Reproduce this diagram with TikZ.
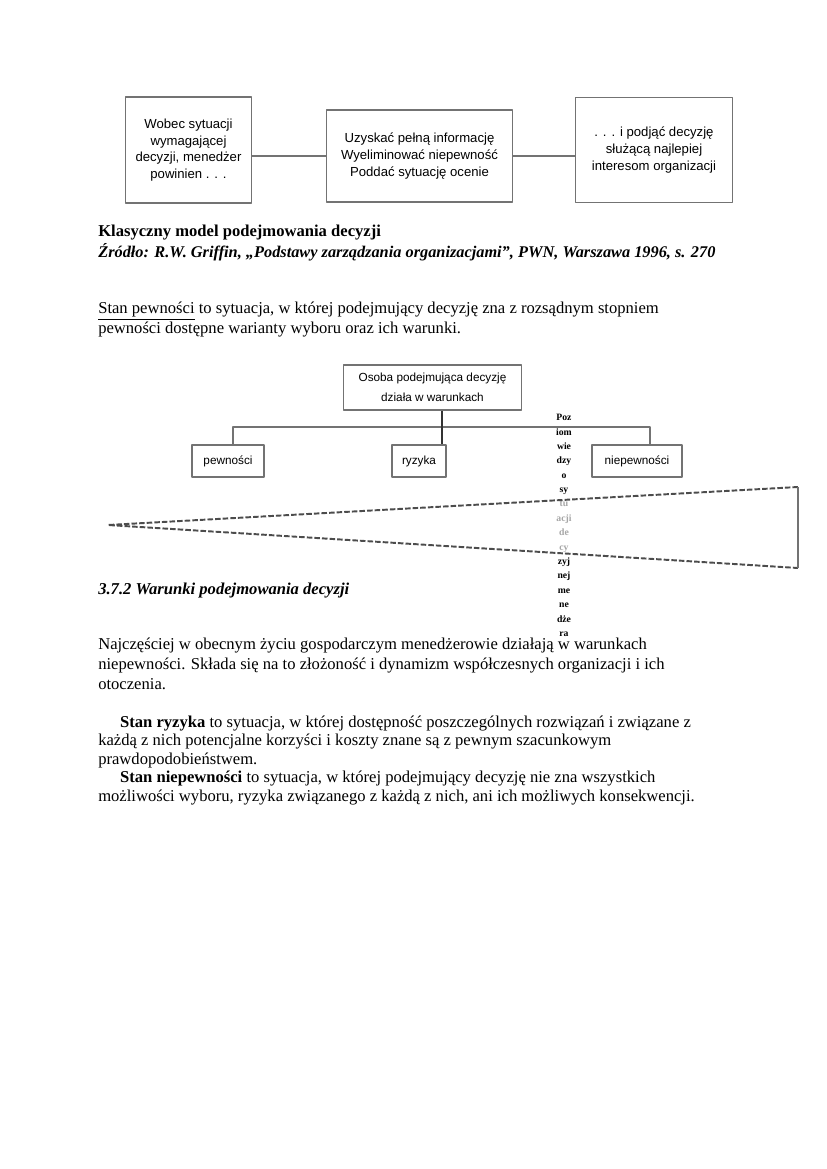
\documentclass[tikz,border=0pt]{standalone}
\usepackage{fontspec}
\setmainfont{Liberation Serif}
\newfontfamily\boxfont{Liberation Sans}
\usetikzlibrary{positioning}
\begin{document}
\begin{tikzpicture}[x=0.0254cm,y=-0.0254cm,line join=round,
  ramka/.style={draw=black!55,line width=1.1pt,align=center,inner sep=1pt,font=\boxfont\fontsize{9.5}{12}\selectfont},
  maly/.style={ramka,font=\boxfont\fontsize{8.5}{14.4}\selectfont,minimum height=23pt},
  linia/.style={draw=black!55,line width=1.1pt},
  tekst/.style={anchor=base west,align=left,inner sep=0pt,font=\fontsize{12}{13.3}\selectfont}]
\useasboundingbox (0,0) rectangle (826,1169);
\fill[white] (0,0) rectangle (826,1169);
\node[ramka,minimum width=91.4pt,minimum height=76.3pt] (wobec) at (188.5,150) {Wobec sytuacji\\wymagającej\\decyzji, menedżer\\powinien . . .};
\node[ramka,minimum width=134.6pt,minimum height=66.2pt] (uzyskac) at (419.5,156) {Uzyskać pełną informację\\Wyeliminować niepewność\\Poddać sytuację ocenie};
\node[ramka,minimum width=113.8pt,minimum height=75.6pt] (podjac) at (654,150) {. . . i podjąć decyzję\\służącą najlepiej\\interesom organizacji};
\draw[linia] (wobec.east|-uzyskac.west)--(uzyskac.west) (uzyskac.east)--(podjac.west|-uzyskac.east);
\node[tekst,font=\fontsize{12}{15}\selectfont\bfseries] (podpis) at (98,257) {Klasyczny model podejmowania decyzji\\\fontsize{11.8}{15}\selectfont\textit{Źródło: R.W. Griffin, „Podstawy zarządzania organizacjami”, PWN, Warszawa 1996, s. 270}};
\node[tekst,font=\fontsize{12}{12.2}\selectfont] (pewnosc) at (98,333) {\underline{Stan pewności} to sytuacja, w której podejmujący decyzję zna z rozsądnym stopniem\\pewności dostępne warianty wyboru oraz ich warunki.};
\node[maly,minimum width=128.9pt,minimum height=32.4pt] (osoba) at (432.5,387.5) {Osoba podejmująca decyzję\\działa w warunkach};
\node[maly,minimum width=51.8pt] (pew) at (228,461) {pewności};
\node[maly,minimum width=38.9pt] (ryz) at (419,461) {ryzyka};
\node[maly,minimum width=64.8pt] (niep) at (637,461) {niepewności};
\coordinate (lewy) at (233,427); \coordinate (prawy) at (650,427); \coordinate (pion) at (442,427);
\draw[linia] (pew.north-|lewy)--(lewy)--(prawy)--(niep.north-|prawy);
\draw[line width=1.1pt,black!80] (osoba.south-|pion)--(ryz.north-|pion);
\node[anchor=north,align=center,inner sep=0pt,font=\fontsize{7}{10.4}\selectfont\bfseries] (slupek) at (564,414) {Poz\\iom\\wie\\dzy\\o\\sy\\tu\\acji\\de\\cy\\zyj\\nej\\me\\ne\\dże\\ra};
\coordinate (szpic) at (108,525); \coordinate (gora) at (798,487); \coordinate (dol) at (798,568);
\fill[white,fill opacity=0.65] (szpic)--(gora)--(dol)--cycle;
\draw[black!70,line width=1.4pt,dash pattern=on 4pt off 1.5pt] (gora)--(szpic)--(dol);
\draw[linia] (gora)--(dol);
\node[tekst,font=\fontsize{12}{13.3}\selectfont\bfseries\itshape] (rozdzial) at (98,594) {3.7.2 Warunki podejmowania decyzji};
\node[tekst,font=\fontsize{12}{14.4}\selectfont] (najczesciej) at (98,689) {Najczęściej w obecnym życiu gospodarczym menedżerowie działają w warunkach\\niepewności. Składa się na to złożoność i dynamizm współczesnych organizacji i ich\\otoczenia.};
\node[tekst,font=\fontsize{12}{13.3}\selectfont] (ryzyko) at (98,801) {\hspace*{15.8pt}\textbf{Stan ryzyka} to sytuacja, w której dostępność poszczególnych rozwiązań i związane z\\każdą z nich potencjalne korzyści i koszty znane są z pewnym szacunkowym\\prawdopodobieństwem.\\\hspace*{15.8pt}\textbf{Stan niepewności} to sytuacja, w której podejmujący decyzję nie zna wszystkich\\możliwości wyboru, ryzyka związanego z każdą z nich, ani ich możliwych konsekwencji.};
\end{tikzpicture}
\end{document}
